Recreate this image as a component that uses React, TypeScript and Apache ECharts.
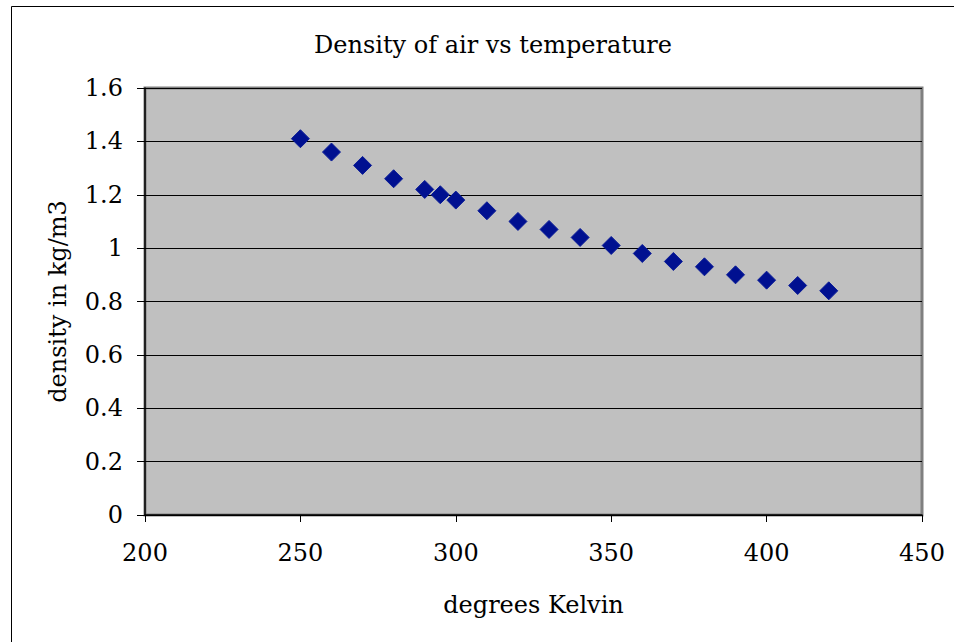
import React, { useEffect, useRef } from "react";
import * as echarts from "echarts";

const temperatures = [250, 260, 270, 280, 290, 295, 300, 310, 320, 330, 340, 350, 360, 370, 380, 390, 400, 410, 420];
const densities = [1.41, 1.36, 1.31, 1.26, 1.22, 1.2, 1.18, 1.14, 1.1, 1.07, 1.04, 1.01, 0.98, 0.95, 0.93, 0.9, 0.88, 0.86, 0.84];
const titleText = "Density of air vs temperature";
const xAxisName = "degrees Kelvin";
const yAxisName = "density in kg/m3";

const FONT = "DejaVu Serif";
const FS = 24;

export default function App() {
  const ref = useRef<HTMLDivElement>(null);
  useEffect(() => {
    if (!ref.current) return;
    const chart = echarts.init(ref.current, null, { renderer: "svg" });
    chart.setOption({
      animation: false,
      backgroundColor: "#ffffff",
      textStyle: { fontFamily: FONT, fontSize: FS, color: "#000" },
      title: {
        text: titleText,
        left: 488,
        top: 28,
        textAlign: "center",
        textStyle: { fontFamily: FONT, fontSize: FS, fontWeight: "normal", color: "#000" },
      },
      graphic: [
        {
          type: "rect",
          shape: { x: 11.5, y: 6.5, width: 1000, height: 1000 },
          style: { fill: "none", stroke: "#000", lineWidth: 1 },
          silent: true,
        },
      ],
      grid: {
        left: 145,
        right: 32,
        top: 88,
        bottom: 127,
        show: true,
        backgroundColor: "#c0c0c0",
        borderColor: "#808080",
        borderWidth: 3,
      },
      xAxis: {
        type: "value",
        min: 200,
        max: 450,
        interval: 50,
        name: xAxisName,
        nameLocation: "middle",
        nameGap: 78,
        nameTextStyle: { fontFamily: FONT, fontSize: FS, color: "#000" },
        axisLine: { show: true, onZero: false, lineStyle: { color: "#000", width: 1.5 } },
        axisTick: { show: true, inside: false, length: 7, lineStyle: { color: "#000" } },
        axisLabel: { fontFamily: FONT, fontSize: FS, color: "#000", margin: 26 },
        splitLine: { show: false },
      },
      yAxis: {
        type: "value",
        min: 0,
        max: 1.6,
        interval: 0.2,
        name: yAxisName,
        nameLocation: "middle",
        nameGap: 75,
        nameRotate: 90,
        nameTextStyle: { fontFamily: FONT, fontSize: FS, color: "#000" },
        axisLine: { show: true, onZero: false, lineStyle: { color: "#000", width: 1.5 } },
        axisTick: { show: true, inside: false, length: 8, lineStyle: { color: "#000" } },
        axisLabel: {
          fontFamily: FONT,
          fontSize: FS,
          color: "#000",
          margin: 22,
          formatter: (v: number) => String(Math.round(v * 10) / 10),
        },
        splitLine: { show: true, lineStyle: { color: "#000", width: 1 } },
      },
      series: [
        {
          type: "scatter",
          data: temperatures.map((t, i) => [t, densities[i]]),
          symbol: "diamond",
          symbolSize: 18,
          itemStyle: { color: "#001090", borderColor: "#0a1c98", borderWidth: 1, opacity: 1 },
        },
      ],
    });
    return () => chart.dispose();
  }, []);
  return <div ref={ref} style={{ width: 954, height: 642, position: "absolute", left: 0, top: 0 }} />;
}
